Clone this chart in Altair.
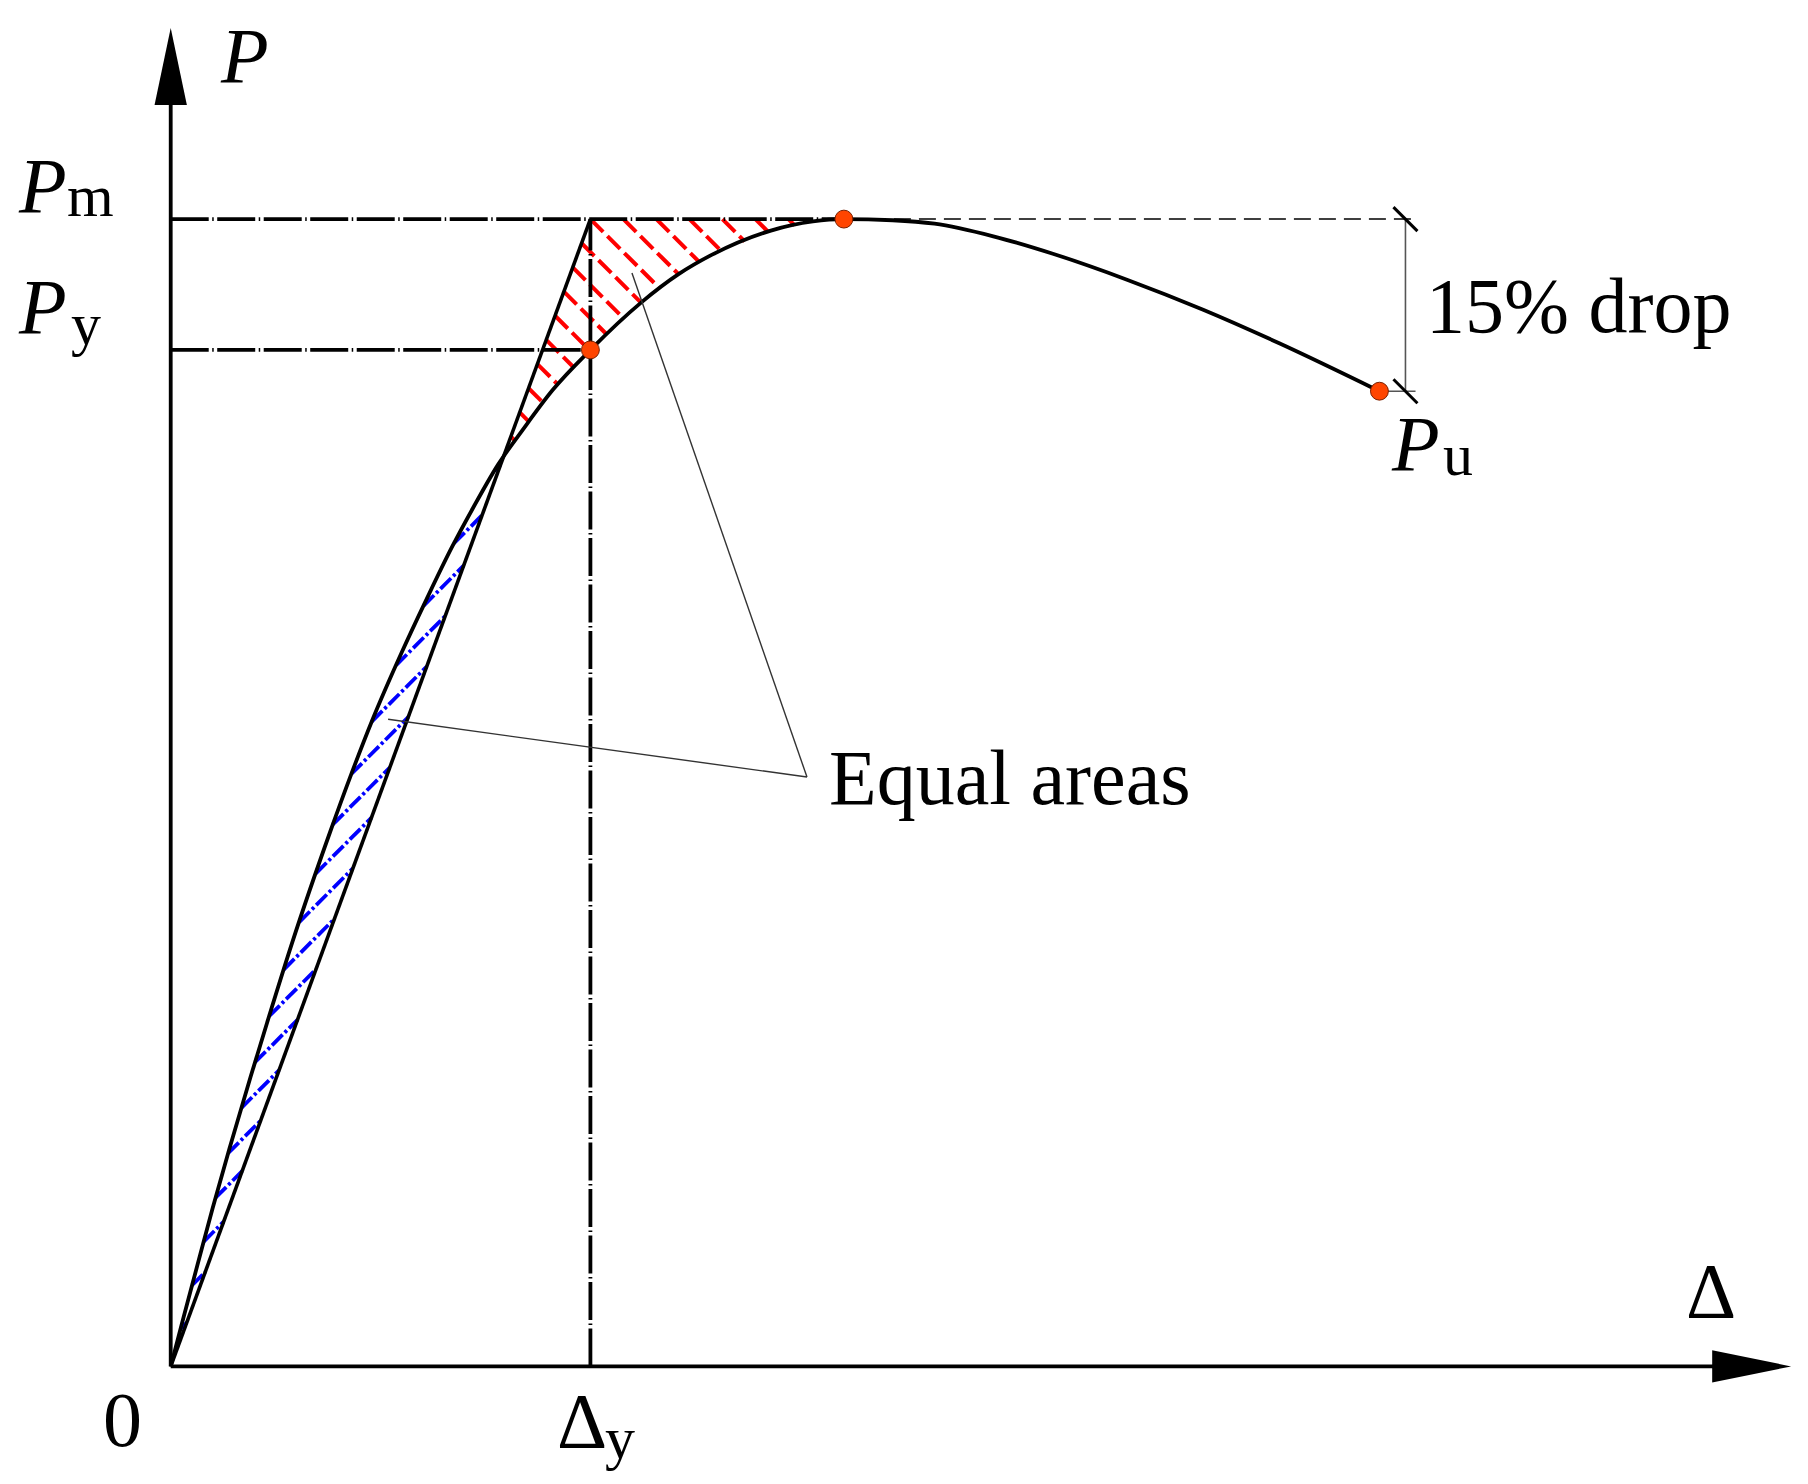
import altair as alt
import pandas as pd
import numpy as np

# ---------------- data (Δ/Δy , P/Pm) ----------------
curve_delta = [0.00, 0.03, 0.07, 0.10, 0.14, 0.19, 0.23, 0.29, 0.38, 0.43, 0.48,
               0.55, 0.61, 0.67, 0.72, 0.78, 0.84, 0.91, 1.00, 1.12, 1.21, 1.29,
               1.43, 1.53, 1.604, 1.72, 1.82, 1.96, 2.10, 2.28, 2.46, 2.64, 2.88]
curve_load = [0.000, 0.042, 0.097, 0.138, 0.190, 0.252, 0.300, 0.370, 0.466, 0.516, 0.563,
              0.622, 0.669, 0.714, 0.748, 0.786, 0.817, 0.851, 0.886, 0.927, 0.952, 0.969,
              0.990, 0.998, 1.000, 0.999, 0.996, 0.985, 0.970, 0.947, 0.921, 0.892, 0.850]

key_names = ["yield", "peak", "ultimate"]
key_delta = [1.000, 1.604, 2.880]
key_load = [0.886, 1.000, 0.850]

yield_delta = 1.0          # Δy
peak_load = 1.0            # Pm
drop_line_x = 2.942        # x of the "15% drop" dimension line
drop_ext_x = 2.966         # end of the extension lines

# axis ends
x_axis_end = 3.861
y_axis_end = 1.1666

# text labels
italic_text = ["P", "P", "P", "P"]
italic_x = [0.1198, -0.3614, -0.3614, 2.9099]
italic_y = [1.1195, 1.0062, 0.9007, 0.7813]
sub_text = ["m", "y", "u", "y"]
sub_x = [-0.2471, -0.2376, 3.0315, 1.0348]
sub_y = [1.0027, 0.8911, 0.7769, -0.0798]
reg_text = ["0", "Δ", "Δ", "Equal areas", "15% drop"]
reg_x = [-0.1613, 0.9205, 3.6104, 1.5686, 2.9910]
reg_y = [-0.0694, -0.0702, 0.0431, 0.4902, 0.9016]

# leader lines for "Equal areas"
leader_x = [0.518, 1.099]
leader_y = [0.564, 0.953]
leader_x2 = [1.516, 1.516]
leader_y2 = [0.5137, 0.5137]

# ---------------- layout ----------------
W, H = 1790, 1466
X_DOMAIN = [-0.3877, 3.8773]
Y_DOMAIN = [-0.0938, 1.1840]
SX = W / (X_DOMAIN[1] - X_DOMAIN[0])
SY = H / (Y_DOMAIN[1] - Y_DOMAIN[0])

xs = alt.Scale(domain=X_DOMAIN, nice=False, zero=False)
ys = alt.Scale(domain=Y_DOMAIN, nice=False, zero=False)
FONT = "Liberation Serif"


def px(x, y):
    return ((x - X_DOMAIN[0]) * SX, (Y_DOMAIN[1] - y) * SY)


def unpx(X, Y):
    return (X / SX + X_DOMAIN[0], Y_DOMAIN[1] - Y / SY)


def clip(poly, p0, d):
    ts = []
    n = len(poly)
    for i in range(n):
        ax, ay = poly[i]
        bx, by = poly[(i + 1) % n]
        ex, ey = bx - ax, by - ay
        den = d[0] * ey - d[1] * ex
        if abs(den) < 1e-12:
            continue
        wx, wy = ax - p0[0], ay - p0[1]
        t = (wx * ey - wy * ex) / den
        s = (wx * d[1] - wy * d[0]) / den
        if 0 <= s < 1:
            ts.append(t)
    ts.sort()
    segs = []
    for j in range(0, len(ts) - 1, 2):
        segs.append((p0[0] + ts[j] * d[0], p0[1] + ts[j] * d[1],
                     p0[0] + ts[j + 1] * d[0], p0[1] + ts[j + 1] * d[1]))
    return segs


# crossing of the curve with the elastic line (origin -> (Δy, Pm))
k_el = peak_load / yield_delta
cx, cy = None, None
for i in range(1, len(curve_delta) - 1):
    f0 = curve_load[i] - k_el * curve_delta[i]
    f1 = curve_load[i + 1] - k_el * curve_delta[i + 1]
    if f0 > 0 and f1 <= 0:
        t = f0 / (f0 - f1)
        cx = curve_delta[i] + t * (curve_delta[i + 1] - curve_delta[i])
        cy = curve_load[i] + t * (curve_load[i + 1] - curve_load[i])
        break

peak_x = key_delta[1]
red_poly = [px(cx, cy), px(yield_delta, peak_load), px(peak_x, peak_load)]
for xv, yv in sorted(zip(curve_delta, curve_load), reverse=True):
    if cx < xv < peak_x:
        red_poly.append(px(xv, yv))
blue_poly = [px(0, 0)]
for xv, yv in zip(curve_delta, curve_load):
    if 0 < xv < cx:
        blue_poly.append(px(xv, yv))
blue_poly.append(px(cx, cy))

hatch_rows = []
VX, VY = px(yield_delta, peak_load)
c0 = VX - VY + 0.01
for k in range(-30, 40):
    c = c0 + 33 * k
    for s in clip(red_poly, (c, 0.0), (1.0, 1.0)):
        a = unpx(s[0], s[1]); b = unpx(s[2], s[3])
        hatch_rows.append({"x": a[0], "y": a[1], "x2": b[0], "y2": b[1], "g": "red"})
OX, OY = px(0, 0)
cb = OX + OY - 27.8
for k in range(0, 60):
    c = cb - 32 * k
    for s in clip(blue_poly, (c, 0.0), (1.0, -1.0)):
        a = unpx(s[0], s[1]); b = unpx(s[2], s[3])
        hatch_rows.append({"x": a[0], "y": a[1], "x2": b[0], "y2": b[1], "g": "blue"})
hatch = pd.DataFrame(hatch_rows)


def enc(ch):
    return ch.encode(x=alt.X("x:Q", scale=xs, axis=None),
                     y=alt.Y("y:Q", scale=ys, axis=None))


def rules(df, **kw):
    return alt.Chart(df).mark_rule(**kw).encode(
        x=alt.X("x:Q", scale=xs, axis=None), y=alt.Y("y:Q", scale=ys, axis=None),
        x2="x2:Q", y2="y2:Q")


red_h = rules(hatch[hatch.g == "red"], color="#ff0000", strokeWidth=4.0,
              strokeDash=[18, 6])
blue_h = rules(hatch[hatch.g == "blue"], color="#0000ff", strokeWidth=3.8,
               strokeDash=[15, 3, 3, 3])

dashdot = pd.DataFrame({
    "x": [0.0, 0.0, yield_delta],
    "y": [peak_load, key_load[0], 0.0],
    "x2": [peak_x, key_delta[0], yield_delta],
    "y2": [peak_load, key_load[0], peak_load],
})
dd = rules(dashdot, color="black", strokeWidth=3.8, strokeDash=[38, 3.5, 1.5, 3.5])

ext = rules(pd.DataFrame({"x": [peak_x], "y": [peak_load], "x2": [drop_ext_x], "y2": [peak_load]}),
            color="black", strokeWidth=1.5, strokeDash=[17, 8])
ext2 = rules(pd.DataFrame({"x": [key_delta[2], drop_line_x], "y": [key_load[2], peak_load],
                           "x2": [drop_ext_x, drop_line_x], "y2": [key_load[2], key_load[2]]}),
             color="#555555", strokeWidth=1.6)
tdx, tdy = 12 / SX, 12 / SY
ticks = rules(pd.DataFrame({"x": [drop_line_x - tdx] * 2,
                            "y": [peak_load + tdy, key_load[2] + tdy],
                            "x2": [drop_line_x + tdx] * 2,
                            "y2": [peak_load - tdy, key_load[2] - tdy]}),
              color="black", strokeWidth=3.0)

elastic = rules(pd.DataFrame({"x": [0.0], "y": [0.0], "x2": [yield_delta], "y2": [peak_load]}),
                color="black", strokeWidth=3.6)

curve = enc(alt.Chart(pd.DataFrame({"x": curve_delta, "y": curve_load}))
            .mark_line(color="black", strokeWidth=3.8, interpolate="monotone"))

arrow_len = 77
axes = rules(pd.DataFrame({"x": [0.0, 0.0], "y": [0.0, 0.0],
                           "x2": [x_axis_end - 0.6 * arrow_len / SX, 0.0],
                           "y2": [0.0, y_axis_end - 0.6 * arrow_len / SY]}),
             color="black", strokeWidth=3.8)
arrow_y = enc(alt.Chart(pd.DataFrame({"x": [0.0], "y": [y_axis_end]}))
              .mark_point(shape="M0,0L0.42,2L-0.42,2Z", filled=True, color="black",
                          size=arrow_len ** 2, opacity=1))
arrow_x = enc(alt.Chart(pd.DataFrame({"x": [x_axis_end], "y": [0.0]}))
              .mark_point(shape="M0,0L-2,-0.41L-2,0.41Z", filled=True, color="black",
                          size=79 ** 2, opacity=1))

leaders = rules(pd.DataFrame({"x": leader_x, "y": leader_y, "x2": leader_x2, "y2": leader_y2}),
                color="#333333", strokeWidth=1.4)

dots = enc(alt.Chart(pd.DataFrame({"x": key_delta, "y": key_load, "name": key_names}))
           .mark_circle(size=320, color="#ff4500", stroke="#7a2000", strokeWidth=1, opacity=1))


def texts(tx, xx, yy, size, style):
    return alt.Chart(pd.DataFrame({"x": xx, "y": yy, "t": tx})).mark_text(
        font=FONT, fontSize=size, fontStyle=style, align="left", baseline="alphabetic",
        color="black").encode(x=alt.X("x:Q", scale=xs, axis=None),
                              y=alt.Y("y:Q", scale=ys, axis=None), text="t:N")


t_it = texts(italic_text, italic_x, italic_y, 78, "italic")
t_sub = texts(sub_text, sub_x, sub_y, 60, "normal")
t_reg = texts(reg_text, reg_x, reg_y, 78, "normal")

chart = alt.layer(
    blue_h, red_h, dd, ext, ext2, ticks, elastic, curve, axes, arrow_y, arrow_x,
    leaders, dots, t_it, t_sub, t_reg
).properties(width=W, height=H, padding=0, autosize="none",
             background="white").configure_view(stroke=None)

chart.save("out.html", embed_options={"renderer": "svg", "actions": False})
